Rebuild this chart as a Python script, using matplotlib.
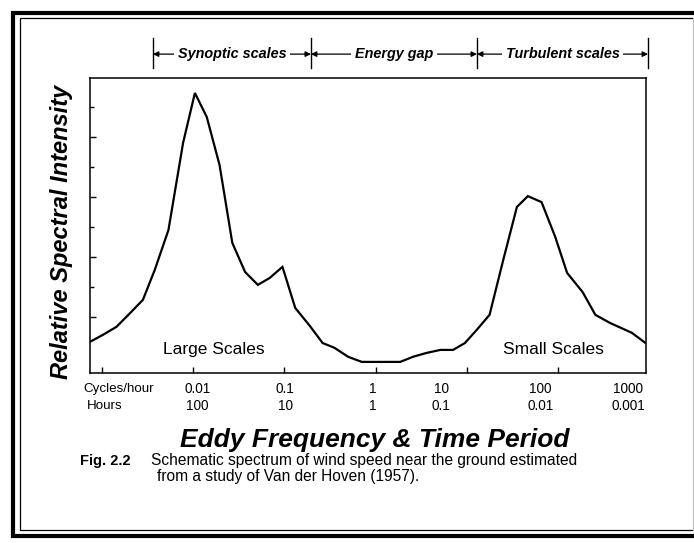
import matplotlib.pyplot as plt
from matplotlib.lines import Line2D

plt.rcParams['font.family'] = ['Liberation Sans', 'DejaVu Sans']

# log10(cycles/hour) and relative spectral intensity
log_freq = [-3.13, -2.99, -2.84, -2.69, -2.55, -2.42, -2.27, -2.11, -1.98, -1.85,
            -1.71, -1.57, -1.43, -1.29, -1.16, -1.02, -0.88, -0.72, -0.58, -0.45,
            -0.30, -0.15, 0.05, 0.27, 0.41, 0.56, 0.71, 0.85, 0.98, 1.11,
            1.25, 1.40, 1.55, 1.67, 1.82, 1.97, 2.10, 2.27, 2.41, 2.57,
            2.81, 2.96]
intensity = [1.17, 1.40, 1.67, 2.13, 2.57, 3.57, 4.90, 7.80, 9.47, 8.67,
             7.07, 4.47, 3.50, 3.07, 3.30, 3.67, 2.30, 1.70, 1.13, 0.97,
             0.67, 0.50, 0.50, 0.50, 0.67, 0.80, 0.90, 0.90, 1.13, 1.57,
             2.07, 3.90, 5.67, 6.03, 5.83, 4.67, 3.47, 2.83, 2.07, 1.80,
             1.47, 1.13]

# tick label rows (positions where the labels sit in the original)
label_pos = [-1.95, -0.99, -0.03, 0.72, 1.81, 2.77]
cycles_labels = ['0.01', '0.1', '1', '10', '100', '1000']
hours_labels = ['100', '10', '1', '0.1', '0.01', '0.001']

# scale ranges along the top
range_edges = [-2.44, -0.708, 1.112, 2.987]
range_names = ['Synoptic scales', 'Energy gap', 'Turbulent scales']

fig = plt.figure(figsize=(6.94, 5.43), dpi=100)
W, H = 694, 543
ax = fig.add_axes([90 / W, 1 - 373 / H, 556 / W, 295 / H])

ax.plot(log_freq, intensity, color='black', lw=1.6, solid_joinstyle='miter')
ax.set_xlim(-3.13, 2.965)
ax.set_ylim(0.13, 9.97)

ax.set_xticks([-3, -2, -1, 0, 1, 2])
ax.set_xticklabels([])
ax.set_yticks([2, 4, 6, 8])
ax.set_yticks([3, 5, 7, 9], minor=True)
ax.set_yticklabels([])
ax.tick_params(axis='both', which='major', direction='in', length=4.5, width=1.0)
ax.tick_params(axis='y', which='minor', direction='in', length=3, width=1.0)
for s in ax.spines.values():
    s.set_linewidth(1.1)

# axis labels
ax.set_ylabel('Relative Spectral Intensity', fontsize=17, fontweight='bold',
              fontstyle='italic')
ax.yaxis.set_label_coords(-0.031, 0.48)
fig.text(375 / W, 1 - 440 / H, 'Eddy Frequency & Time Period', fontsize=19,
         fontweight='bold', fontstyle='italic', ha='center', va='center')

# tick label rows
xt = ax.get_xaxis_transform()
ax.text(-3.2, -0.054, 'Cycles/hour', transform=xt, ha='left', va='center',
        fontsize=9.6, clip_on=False)
ax.text(-3.16, -0.112, 'Hours', transform=xt, ha='left', va='center',
        fontsize=9.6, clip_on=False)
for p, c, h in zip(label_pos, cycles_labels, hours_labels):
    ax.text(p, -0.054, c, transform=xt, ha='center', va='center', fontsize=9.8,
            clip_on=False)
    ax.text(p, -0.112, h, transform=xt, ha='center', va='center', fontsize=9.8,
            clip_on=False)

# in-plot labels
ax.text(-1.77, 0.9, 'Large Scales', ha='center', va='center', fontsize=12.5)
ax.text(1.945, 0.9, 'Small Scales', ha='center', va='center', fontsize=12.5)

# ranges along the top
for e in range_edges:
    ax.plot([e, e], [1.034, 1.136], transform=xt, color='black', lw=1.0,
            clip_on=False)
for a, b, name in zip(range_edges[:-1], range_edges[1:], range_names):
    ax.annotate('', xy=(a, 1.081), xytext=(b, 1.081), xycoords=xt,
                textcoords=xt,
                arrowprops=dict(arrowstyle='<|-|>', color='black', lw=0.9,
                                mutation_scale=8, shrinkA=0, shrinkB=0))
    ax.text((a + b) / 2, 1.081, name, transform=xt, ha='center', va='center',
            fontsize=10.4, fontweight='bold', fontstyle='italic',
            bbox=dict(facecolor='white', edgecolor='none', pad=2.5))

# caption
fig.text(80 / W, 1 - 461 / H, 'Fig. 2.2', fontsize=10.5, fontweight='bold',
         ha='left', va='center')
fig.text(151 / W, 1 - 461 / H,
         'Schematic spectrum of wind speed near the ground estimated',
         fontsize=11.2, ha='left', va='center')
fig.text(157 / W, 1 - 476 / H, 'from a study of Van der Hoven (1957).',
         fontsize=11.2, ha='left', va='center')

# double frame around the figure
def frame(x0, y0, y1, lw):
    xs = [W + 5, x0, x0, W + 5]
    ys = [y0, y0, y1, y1]
    fig.add_artist(Line2D([x / W for x in xs], [1 - y / H for y in ys],
                          color='black', lw=lw, solid_joinstyle='miter'))

frame(13, 12.5, 535.5, 3.0)
frame(20, 18, 530, 0.9)
fig.add_artist(Line2D([693 / W, 693 / W], [1 - 18 / H, 1 - 530 / H],
                      color='#bbbbbb', lw=0.8))

fig.savefig('out.png', dpi=100)
